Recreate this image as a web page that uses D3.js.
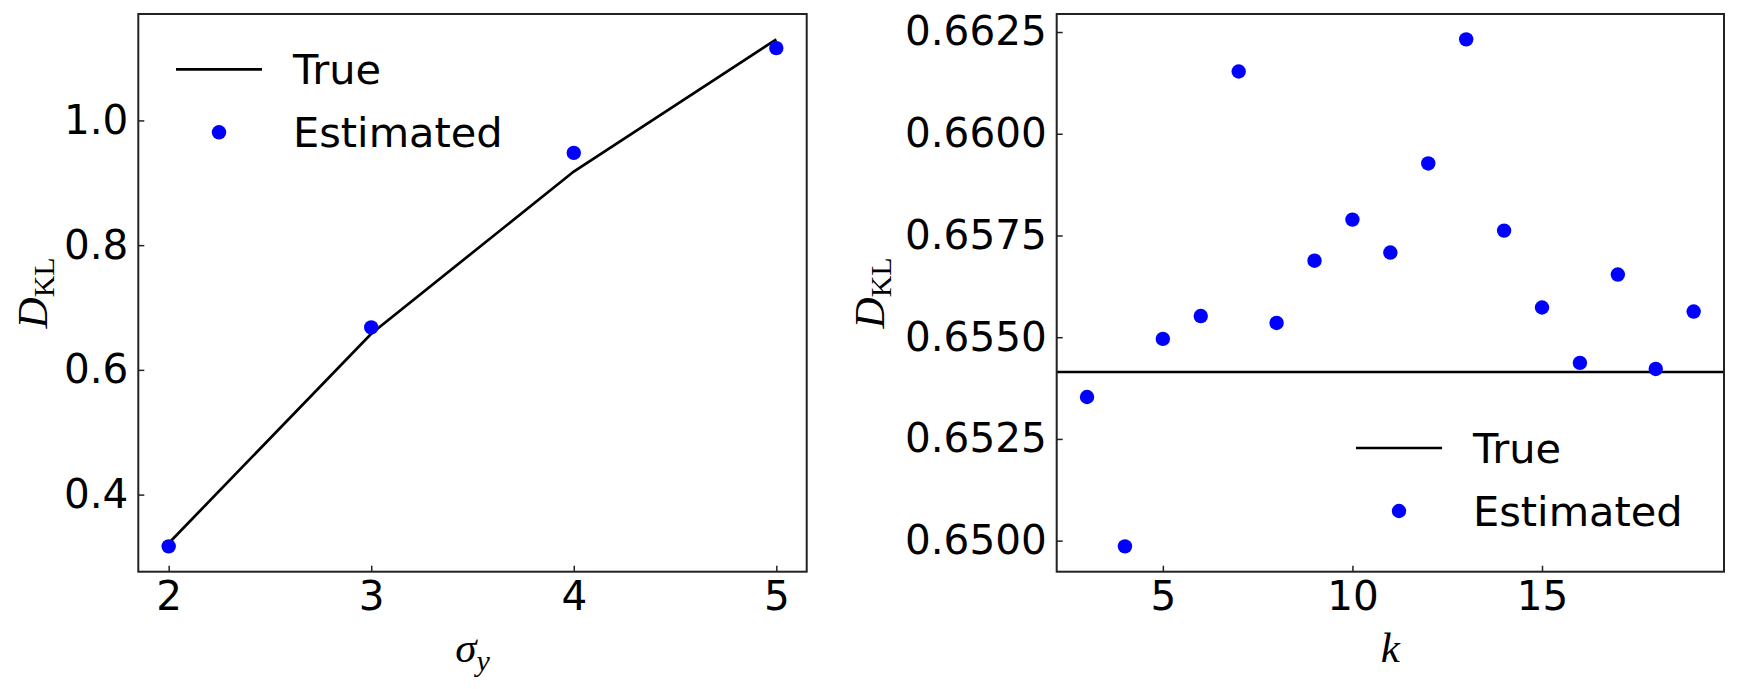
<!DOCTYPE html>
<meta charset="utf-8">
<script src="https://d3js.org/d3.v7.min.js"></script>
<style>
  body { margin: 0; background: #fff; }
  text { font-family: "DejaVu Sans", sans-serif; fill: #000; }
  .lab { font-family: "Liberation Serif", "DejaVu Serif", serif; }
</style>
<div id="my_dataviz"></div>
<script>

// left panel data
var sigmaY = [2, 3, 4, 5];
var trueLeft = [0.322, 0.658, 0.918, 1.130];
var estLeft = [0.317, 0.668, 0.948, 1.116];
var leftTicksY = [0.4, 0.6, 0.8, 1.0];
var leftTicksX = [2, 3, 4, 5];

// right panel data
var kVals = [3, 4, 5, 6, 7, 8, 9, 10, 11, 12, 13, 14, 15, 16, 17, 18, 19];
var estRight = [0.65353, 0.64986, 0.65496, 0.65552, 0.66153, 0.65535, 0.65688, 0.65789,
                0.65708, 0.65927, 0.66232, 0.65762, 0.65573, 0.65437, 0.65654, 0.65422, 0.65563];
var trueRight = 0.654145;
var rightTicksY = [0.65, 0.6525, 0.655, 0.6575, 0.66, 0.6625];
var rightTicksX = [5, 10, 15];

var W = 1739, H = 689;

var svg = d3.select("#my_dataviz")
  .append("svg")
    .attr("width", W)
    .attr("height", H);

// pad domain like matplotlib (5%)
function pad(ext) {
  var d = (ext[1] - ext[0]) * 0.05;
  return [ext[0] - d, ext[1] + d];
}

function drawPanel(opt) {
  var x = d3.scaleLinear().domain(opt.xdom).range([opt.left, opt.right]);
  var y = d3.scaleLinear().domain(opt.ydom).range([opt.bottom, opt.top]);

  var g = svg.append("g");

  // x axis (inward ticks)
  g.append("g")
    .attr("transform", "translate(0," + opt.bottom + ")")
    .call(d3.axisBottom(x).tickValues(opt.xticks).tickSizeInner(-6).tickSizeOuter(0).tickPadding(10).tickFormat(d3.format("d")))
    .call(function(a) {
      a.select(".domain").remove();
      a.selectAll("line").attr("stroke", "#222").attr("stroke-width", 1.5);
      a.selectAll("text").style("font-size", "40.5px").style("font-family", "DejaVu Sans");
    });

  // y axis
  g.append("g")
    .attr("transform", "translate(" + opt.left + ",0)")
    .call(d3.axisLeft(y).tickValues(opt.yticks).tickSizeInner(-6).tickSizeOuter(0).tickPadding(10).tickFormat(d3.format(opt.yfmt)))
    .call(function(a) {
      a.select(".domain").remove();
      a.selectAll("line").attr("stroke", "#222").attr("stroke-width", 1.5);
      a.selectAll("text").style("font-size", "40.5px").style("font-family", "DejaVu Sans");
    });

  opt.draw(g, x, y);

  // frame
  g.append("rect")
    .attr("x", opt.left).attr("y", opt.top)
    .attr("width", opt.right - opt.left).attr("height", opt.bottom - opt.top)
    .attr("fill", "none").attr("stroke", "#222").attr("stroke-width", 2);

  // y label D_KL
  var yl = g.append("text")
    .attr("class", "lab")
    .attr("transform", "translate(" + opt.ylabX + "," + ((opt.top + opt.bottom) / 2) + ") rotate(-90)")
    .attr("text-anchor", "middle")
    .style("font-size", "43px");
  yl.append("tspan").style("font-style", "italic").text("D");
  yl.append("tspan").attr("dy", 7).style("font-size", "30px").text("KL");

  // x label
  var xl = g.append("text")
    .attr("class", "lab")
    .attr("x", (opt.left + opt.right) / 2)
    .attr("y", 662)
    .attr("text-anchor", "middle")
    .style("font-size", "43px")
    .style("font-style", "italic");
  xl.append("tspan").text(opt.xlab);
  if (opt.xsub) xl.append("tspan").attr("dy", 9).style("font-size", "30px").text(opt.xsub);

  // legend
  var lg = g.append("g").attr("transform", "translate(" + opt.legX + "," + opt.legY + ")");
  lg.append("line").attr("x1", 0).attr("x2", 86).attr("y1", 0).attr("y2", 0)
    .attr("stroke", "black").attr("stroke-width", 2.7);
  lg.append("text").attr("x", 117).attr("y", 15).style("font-size", "41.5px").text("True");
  lg.append("circle").attr("cx", 43).attr("cy", 63).attr("r", 7.2).attr("fill", "#0000ff");
  lg.append("text").attr("x", 117).attr("y", 78).style("font-size", "41.5px").text("Estimated");
}

// left panel
drawPanel({
  left: 138.3, right: 806.7, top: 14, bottom: 571.7,
  xdom: pad(d3.extent(sigmaY)),
  ydom: pad(d3.extent(trueLeft.concat(estLeft))),
  xticks: leftTicksX, yticks: leftTicksY, yfmt: ".1f",
  ylabX: 47, xlab: "σ", xsub: "y",
  legX: 176, legY: 69.3,
  draw: function(g, x, y) {
    g.append("path")
      .datum(sigmaY.map(function(d, i) { return [d, trueLeft[i]]; }))
      .attr("fill", "none").attr("stroke", "black").attr("stroke-width", 2.7)
      .attr("d", d3.line().x(function(d) { return x(d[0]); }).y(function(d) { return y(d[1]); }));
    g.selectAll(".dotL").data(sigmaY).enter().append("circle")
      .attr("cx", function(d) { return x(d); })
      .attr("cy", function(d, i) { return y(estLeft[i]); })
      .attr("r", 7.2).attr("fill", "#0000ff");
  }
});

// right panel
drawPanel({
  left: 1056.7, right: 1724, top: 14, bottom: 571.7,
  xdom: pad(d3.extent(kVals)),
  ydom: pad(d3.extent(estRight.concat([trueRight]))),
  xticks: rightTicksX, yticks: rightTicksY, yfmt: ".4f",
  ylabX: 884, xlab: "k", xsub: null,
  legX: 1356, legY: 448,
  draw: function(g, x, y) {
    g.append("line")
      .attr("x1", x.range()[0]).attr("x2", x.range()[1])
      .attr("y1", y(trueRight)).attr("y2", y(trueRight))
      .attr("stroke", "black").attr("stroke-width", 2.7);
    g.selectAll(".dotR").data(kVals).enter().append("circle")
      .attr("cx", function(d) { return x(d); })
      .attr("cy", function(d, i) { return y(estRight[i]); })
      .attr("r", 7.2).attr("fill", "#0000ff");
  }
});

</script>
